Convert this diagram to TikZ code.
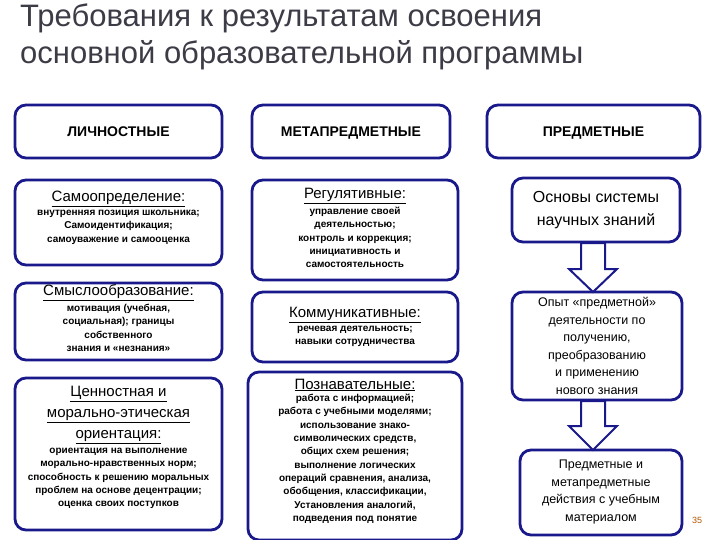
\documentclass[tikz,border=0pt]{standalone}
\usepackage{fontspec}
\setmainfont{Liberation Sans}
\begin{document}
\begin{tikzpicture}[x=1pt,y=-1pt,
  box/.style={draw=navy,line width=2.8pt,rounded corners=11pt,fill=white},
  txt/.style={align=center,inner sep=0pt,text=black},
  arr/.style={draw=navy,line width=2pt,fill=white}]
\definecolor{navy}{RGB}{25,25,140}
\definecolor{titlec}{RGB}{60,60,70}
\fill[white] (0,0) rectangle (720,540);
\useasboundingbox (0,0) rectangle (720,540);
\node[txt,anchor=north west,align=left,text=titlec,font=\fontsize{31}{37}\selectfont] (title) at (20,4)
 {Требования к результатам освоения\\основной образовательной  программы};
% boxes
\tikzset{hd/.style={txt,anchor=base,font=\bfseries\fontsize{14}{16}\selectfont}}
\draw[box] (15,105) rectangle (222,158); \node[hd] (h1) at (118.5,137) {ЛИЧНОСТНЫЕ};
\draw[box] (252,105) rectangle (450,158); \node[hd] (h2) at (351,137) {МЕТАПРЕДМЕТНЫЕ};
\draw[box] (487,105) rectangle (700,158); \node[hd] (h3) at (593.5,137) {ПРЕДМЕТНЫЕ};
\tikzset{body/.style={txt,font=\bfseries\fontsize{10}{13.3}\selectfont},
 head/.style={txt,font=\fontsize{15}{18}\selectfont}}
% left column
\draw[box] (15,180) rectangle (222,265);
\node[head] (a1) at (118.5,199) {\underline{Самоопределение:}};
\node[body,anchor=north] (a1b) at (118.5,210) {внутренняя позиция школьника;\\Самоидентификация;\\самоуважение и самооценка};
\draw[box] (15,283) rectangle (222,360);
\node[head] (a2) at (118.5,293) {\underline{Смыслообразование:}};
\node[body,anchor=north] (a2b) at (118.5,304) {мотивация (учебная,\\социальная); границы\\собственного\\знания и «незнания»};
\draw[box] (15,378) rectangle (222,530);
\node[head,font=\fontsize{15}{21}\selectfont,anchor=north] (a3) at (118.5,386) {\underline{Ценностная и}\\\underline{морально-этическая}\\\underline{ориентация:}};
\node[body,anchor=north] (a3b) at (118.5,448) {ориентация на выполнение\\морально-нравственных норм;\\способность к решению моральных\\проблем на основе децентрации;\\оценка своих поступков};
% middle column
\draw[box] (252,180) rectangle (458,280);
\node[head] (b1) at (355,196) {\underline{Регулятивные:}};
\node[body,anchor=north] (b1b) at (355,207) {управление своей\\деятельностью;\\контроль и коррекция;\\инициативность и\\самостоятельность};
\draw[box] (252,292) rectangle (458,362);
\node[head] (b2) at (355,315) {\underline{Коммуникативные:}};
\node[body,anchor=north] (b2b) at (355,326) {речевая деятельность;\\навыки сотрудничества};
\draw[box] (248,372) rectangle (462,540);
\node[head] (b3) at (355,385) {\underline{Познавательные:}};
\node[body,anchor=north] (b3b) at (355,394) {работа с информацией;\\работа с учебными моделями;\\использование знако-\\символических средств,\\общих схем решения;\\выполнение логических\\операций сравнения,  анализа,\\обобщения, классификации,\\Установления аналогий,\\подведения под понятие};
% right column
\draw[box] (512,178) rectangle (680,242);
\node[txt,font=\fontsize{16}{23}\selectfont] (c1) at (596,210) {Основы системы\\научных знаний};
\draw[box] (512,292) rectangle (682,400);
\node[txt,font=\fontsize{12.5}{17.5}\selectfont] (c2) at (597,346) {Опыт «предметной»\\деятельности по\\получению,\\преобразованию\\и применению\\нового знания};
\draw[box] (520,450) rectangle (682,535);
\node[txt,font=\fontsize{12.5}{17.5}\selectfont] (c3) at (601,492) {Предметные и\\метапредметные\\действия с учебным\\материалом};
\node[txt,text=orange!70!black,font=\fontsize{9}{10}\selectfont] (pg) at (697,520) {35};
% arrows
\draw[arr] (581,243) -- (605,243) -- (605,269) -- (617,269) -- (593,292) -- (569,269) -- (581,269) -- cycle;
\draw[arr] (581,401) -- (605,401) -- (605,426) -- (617,426) -- (593,450) -- (569,426) -- (581,426) -- cycle;
\end{tikzpicture}
\end{document}
